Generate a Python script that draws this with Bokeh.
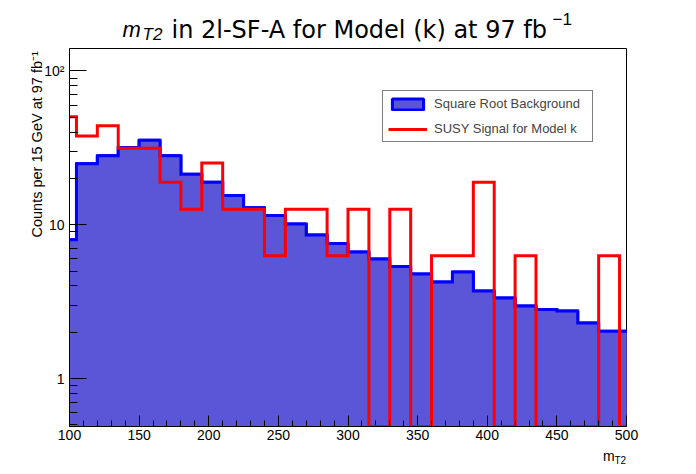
import numpy as np
from bokeh.plotting import figure
from bokeh.models import Label, Legend, LegendItem, FixedTicker, Range1d
from bokeh.embed import file_html
from bokeh.resources import INLINE

# ---------------- data ----------------
bin_edges = list(range(90, 511, 15))          # 15 GeV bins, 90 .. 510
background = [8.0, 24.9, 28.1, 31.8, 35.5, 28.1, 21.3, 18.9, 15.5, 12.9,
              11.5, 10.1, 8.57, 7.56, 6.66, 5.99, 5.36, 4.78, 4.25, 4.93,
              3.71, 3.34, 2.96, 2.81, 2.75, 2.30, 2.03, 2.03]
signal = [50.4, 37.8, 44.1, 31.5, 31.5, 18.9, 12.6, 25.2, 12.6, 12.6,
          6.3, 12.6, 12.6, 6.3, 12.6, 0.0, 12.6, 0.0, 6.3, 6.3,
          18.9, 0.0, 6.3, 0.0, 0.0, 0.0, 6.3, 0.0]
x_ticks = [100, 150, 200, 250, 300, 350, 400, 450, 500]
y_ticks = [1, 10, 100]
y_tick_labels = {1: "1", 10: "10", 100: "10\u00b2"}
x_lo, x_hi = 100, 500
y_lo, y_hi = 0.488, 140.0

title_m = "m"
title_sub = "T2"
title_main = "in 2l-SF-A for Model (k) at 97 fb"
title_sup = "\u22121"
y_title = "Counts per 15 GeV at 97 fb\u207b\u00b9"
x_title_m = "m"
x_title_sub = "T2"
legend_bg_label = "Square Root Background"
legend_sig_label = "SUSY Signal for Model k"

FILL = "#5b55d8"
FONT = "Liberation Sans"

# ---------------- figure ----------------
p = figure(frame_width=557, frame_height=378,
           x_range=Range1d(x_lo, x_hi), y_range=Range1d(y_lo, y_hi),
           y_axis_type="log", output_backend="svg", toolbar_location=None,
           min_border_left=69, min_border_right=70,
           min_border_top=48, min_border_bottom=48)
p.background_fill_color = "white"
p.border_fill_color = "white"
p.outline_line_color = "black"
p.outline_line_width = 1
p.xgrid.visible = False
p.ygrid.visible = False

xs = bin_edges
bg_y = background + [background[-1]]
sig_vals = [v if v > 0 else y_lo for v in signal]
sig_y = sig_vals + [sig_vals[-1]]
floor = [y_lo] * len(xs)

# bars (used for the legend swatch), then fill on top, then outlines
bars = p.quad(left=bin_edges[:-1], right=bin_edges[1:], top=background,
              bottom=[y_lo] * len(background), fill_color=FILL,
              line_color="#0000ff", line_width=3)
p.varea_step(x=xs, y1=floor, y2=bg_y, step_mode="after", fill_color=FILL)
p.step(x=xs, y=bg_y, mode="after", line_color="#0000ff", line_width=3,
       line_join="miter")
sig_r = p.step(x=xs, y=sig_y, mode="after", line_color="#ff0000",
               line_width=3, line_join="miter")

# ---------------- axes ----------------
x_minor = [v for v in range(x_lo, x_hi + 1, 10) if v not in x_ticks]
p.xaxis.ticker = FixedTicker(ticks=x_ticks, minor_ticks=x_minor)
y_minor = [m * d for d in (0.1, 1, 10) for m in range(2, 10)]
p.yaxis.ticker = FixedTicker(ticks=y_ticks, minor_ticks=y_minor)
p.yaxis.major_label_overrides = y_tick_labels

for ax in (p.xaxis[0], p.yaxis[0]):
    ax.axis_line_color = "black"
    ax.axis_line_width = 1
    ax.major_tick_line_color = "black"
    ax.minor_tick_line_color = "black"
    ax.major_tick_out = 0
    ax.minor_tick_out = 0
    ax.major_label_text_font = FONT
    ax.major_label_text_font_size = "14px"
    ax.major_label_text_color = "black"
p.xaxis.major_tick_in = 11
p.xaxis.minor_tick_in = 6
p.yaxis.major_tick_in = 17
p.yaxis.minor_tick_in = 8
p.xaxis.major_label_standoff = 3
p.yaxis.major_label_standoff = 5

# ---------------- legend ----------------
legend = Legend(items=[LegendItem(label=legend_bg_label, renderers=[bars]),
                       LegendItem(label=legend_sig_label, renderers=[sig_r])],
                location=(313, 284), margin=0, padding=5, spacing=10,
                glyph_width=39, glyph_height=14, label_height=14,
                label_width=153, label_standoff=7,
                label_text_font=FONT, label_text_font_size="13px",
                border_line_color="black", border_line_width=1,
                background_fill_color="white", background_fill_alpha=1)
p.add_layout(legend)

# ---------------- texts (side panels => not clipped to the frame) ----------
def lab(x, y, text, size, side, font=FONT, style="normal", angle=0.0):
    p.add_layout(Label(x=x, y=y, x_units="canvas", y_units="canvas",
                       text=text, text_font=font, text_font_size=size,
                       text_font_style=style, text_baseline="alphabetic",
                       text_align="left", angle=angle, text_color="black"),
                 side)

lab(171, 29, title_main, "24px", "above", font="DejaVu Sans")
lab(122, 29, title_m, "22px", "right", style="italic")
lab(552, 18.5, title_sup, "17px", "right")
lab(142, 33.5, title_sub, "17px", "below", style="italic")
lab(36, 237, y_title, "14.5px", "left", angle=np.pi / 2)
lab(602.5, 455, x_title_m, "14px", "right")
lab(614, 460, x_title_sub, "10px", "right")

open("out.html", "w").write(file_html(p, INLINE))
